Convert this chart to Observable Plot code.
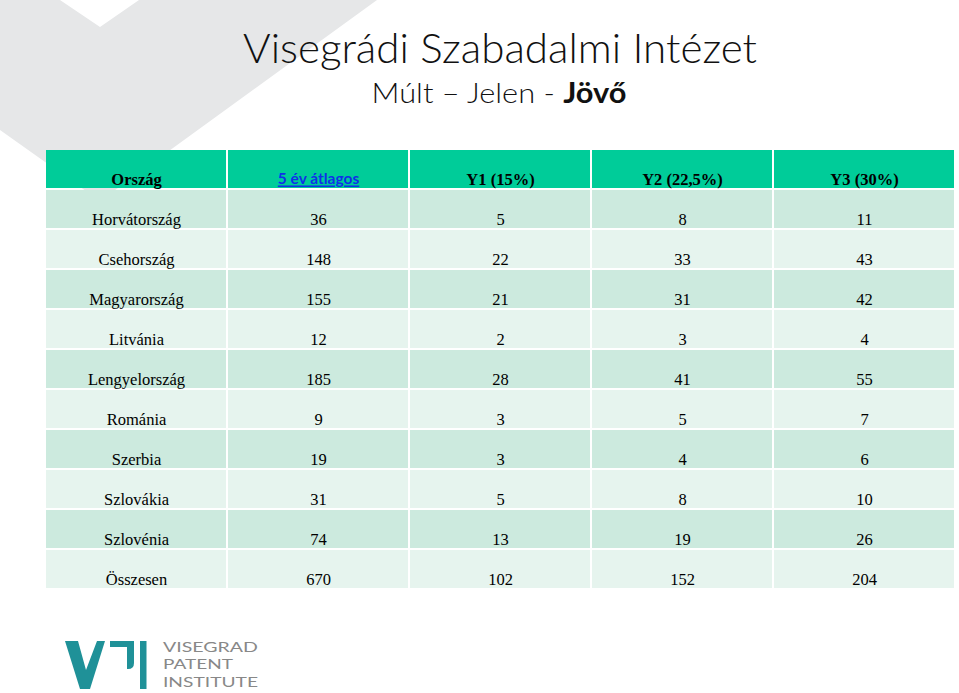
<!DOCTYPE html>
<html>
<head>
<meta charset="utf-8">
<script src="https://cdn.jsdelivr.net/npm/d3@7"></script>
<script src="https://cdn.jsdelivr.net/npm/@observablehq/plot@0.6"></script>
<style>
  html, body { margin: 0; padding: 0; background: #fff; }
  #page { position: relative; width: 959px; height: 693px; overflow: hidden; background: #fff; }
  #deco { position: absolute; left: 0; top: 0; }
  #chart { position: absolute; left: 0; top: 147px; }
</style>
</head>
<body>
<div id="page">
  <svg id="deco" width="959" height="693" xmlns="http://www.w3.org/2000/svg">
    <polygon points="0,0 60,0 100,27 139,0 377,0 100,201 0,130" fill="#e6e7e8"/>
    <text x="500" y="63" text-anchor="middle" font-family="Lato, 'Open Sans', sans-serif" font-weight="300" font-size="42" fill="#111" textLength="514" lengthAdjust="spacingAndGlyphs">Visegrádi Szabadalmi Intézet</text>
    <text x="499" y="103" text-anchor="middle" font-family="Lato, 'Open Sans', sans-serif" font-weight="300" font-size="28" fill="#111" textLength="255" lengthAdjust="spacingAndGlyphs">Múlt – Jelen - <tspan font-weight="700">Jövő</tspan></text>
    <!-- logo -->
    <g fill="#1f9198">
      <polygon points="65,641 78,641 86,670 97,641 105,641 90,689 80,689"/>
      <path d="M110,641 H134 V663 Q134,669 128,669 H127 V647 H110 Z"/>
      <rect x="140" y="641" width="6.5" height="48"/>
    </g>
    <g font-family="Lato, 'Open Sans', sans-serif" font-size="12.5" fill="#888">
      <text x="163" y="652" textLength="95" lengthAdjust="spacingAndGlyphs">VISEGRAD</text>
      <text x="163" y="669" textLength="70" lengthAdjust="spacingAndGlyphs">PATENT</text>
      <text x="163" y="687" textLength="95" lengthAdjust="spacingAndGlyphs">INSTITUTE</text>
    </g>
  </svg>
  <div id="chart"></div>
</div>
<script>
// ---- data ----
const columns = ["Ország", "5 év átlagos", "Y1 (15%)", "Y2 (22,5%)", "Y3 (30%)"];
const countries = ["Horvátország", "Csehország", "Magyarország", "Litvánia", "Lengyelország", "Románia", "Szerbia", "Szlovákia", "Szlovénia", "Összesen"];
const avg5 = [36, 148, 155, 12, 185, 9, 19, 31, 74, 670];
const y1 = [5, 22, 21, 2, 28, 3, 3, 5, 13, 102];
const y2 = [8, 33, 31, 3, 41, 5, 4, 8, 19, 152];
const y3 = [11, 43, 42, 4, 55, 7, 6, 10, 26, 204];

const headerKey = "__header";
const rowKeys = [headerKey, ...countries];
const colors = { header: "#00cc99", dark: "#cceade", light: "#e6f4ee" };

const cells = [];
const headerTexts = [];
const bodyTexts = [];
columns.forEach(c => {
  cells.push({ col: c, row: headerKey, fill: colors.header });
  headerTexts.push({ col: c, row: headerKey, label: c });
});
countries.forEach((name, i) => {
  const fill = i % 2 === 0 ? colors.dark : colors.light;
  const vals = [name, avg5[i], y1[i], y2[i], y3[i]];
  columns.forEach((c, j) => {
    cells.push({ col: c, row: name, fill });
    bodyTexts.push({ col: c, row: name, label: String(vals[j]) });
  });
});

const chart = Plot.plot({
  width: 959,
  height: 444,
  marginLeft: 44,
  marginRight: 4,
  marginTop: 0,
  marginBottom: 0,
  style: { background: "transparent" },
  x: { type: "band", domain: columns, padding: 0, axis: null },
  y: { type: "band", domain: rowKeys, padding: 0, axis: null },
  color: { type: "identity" },
  marks: [
    Plot.cell(cells, { x: "col", y: "row", fill: "fill", insetLeft: 1, insetRight: 1, insetTop: 1, insetBottom: 1 }),
    Plot.text(headerTexts.filter(d => d.col !== "5 év átlagos"), {
      x: "col", y: "row", text: "label", dy: 10,
      fontFamily: "'Liberation Serif', 'Times New Roman', serif",
      fontWeight: "bold", fontSize: 16.5, fill: "#000"
    }),
    Plot.text(headerTexts.filter(d => d.col === "5 év átlagos"), {
      x: "col", y: "row", text: "label", dy: 10,
      fontFamily: "Lato, 'Open Sans', sans-serif",
      fontWeight: "bold", fontSize: 15.5, fill: "#1030e8"
    }),
    Plot.text(bodyTexts, {
      x: "col", y: "row", text: "label", dy: 10,
      fontFamily: "'Liberation Serif', 'Times New Roman', serif",
      fontSize: 16.5, fill: "#000"
    })
  ]
});
document.getElementById("chart").appendChild(chart);
d3.select(chart).selectAll("text")
  .filter(function() { return this.textContent === "5 év átlagos"; })
  .style("text-decoration", "underline");
</script>
</body>
</html>
